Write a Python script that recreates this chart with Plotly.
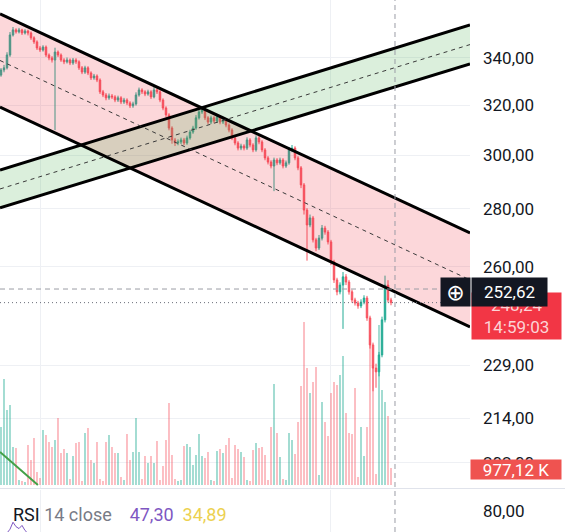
import plotly.graph_objects as go

# ---------------- data ----------------
bar_index = list(range(131))

open_ = [332.6, 334.8, 335.7, 341.3, 350.2, 352.5, 351.6, 352.5, 351.1, 352.0,
         351.1, 348.9, 347.1, 344.4, 343.5, 344.8, 341.3, 340.0, 339.1, 342.6,
         341.3, 339.1, 338.3, 339.1, 337.8, 339.1, 338.3, 335.7, 333.9, 335.7,
         333.5, 331.4, 332.2, 330.5, 325.5, 324.2, 323.0, 323.8, 323.4, 322.1,
         323.0, 321.3, 322.1, 320.9, 319.7, 320.5, 324.2, 326.3, 325.5, 324.6,
         325.5, 323.4, 326.3, 325.5, 322.1, 318.8, 316.0, 310.7, 306.0, 304.8,
         305.2, 306.0, 304.8, 306.8, 309.1, 310.7, 314.8, 317.2, 318.0, 314.8,
         313.1, 314.8, 313.5, 315.2, 313.1, 313.9, 311.9, 309.9, 306.8, 304.8,
         302.8, 303.6, 302.8, 306.0, 304.0, 302.1, 306.8, 305.2, 302.1, 299.0,
         297.4, 295.9, 298.2, 297.1, 298.2, 295.9, 297.1, 302.1, 302.8, 299.0,
         295.2, 288.8, 279.6, 274.3, 276.8, 269.1, 266.3, 269.7, 273.2, 271.8,
         268.4, 261.6, 255.6, 251.7, 253.9, 256.6, 254.9, 251.7, 249.1, 248.1,
         247.2, 248.4, 249.7, 243.4, 235.1, 228.2, 227.1, 232.1, 242.8, 253.9,
         249.1]
high = [335.6, 337.0, 342.5, 351.5, 353.8, 353.2, 353.4, 353.0, 352.8, 352.6,
        351.8, 349.6, 347.8, 345.3, 345.6, 345.5, 342.0, 340.8, 344.5, 343.3,
        342.0, 339.9, 340.2, 339.8, 340.0, 339.9, 339.0, 336.5, 336.6, 336.4,
        334.2, 333.1, 332.9, 331.2, 326.3, 325.0, 324.8, 324.6, 324.1, 323.9,
        323.7, 323.0, 322.8, 321.6, 321.4, 325.3, 327.3, 327.0, 326.2, 326.4,
        326.2, 327.8, 327.0, 326.2, 322.8, 319.5, 316.7, 311.4, 306.8, 306.2,
        306.9, 306.8, 307.7, 310.0, 311.6, 315.9, 318.2, 319.5, 318.7, 315.5,
        315.7, 315.5, 316.1, 315.9, 314.8, 314.6, 312.6, 310.6, 307.5, 305.5,
        304.5, 304.3, 307.0, 306.7, 304.7, 307.8, 307.5, 305.9, 302.8, 299.7,
        298.1, 299.1, 298.9, 299.1, 298.9, 298.0, 303.2, 304.0, 303.5, 299.7,
        295.9, 289.5, 280.3, 278.0, 277.5, 269.8, 270.8, 274.3, 274.0, 272.5,
        269.1, 262.3, 256.3, 254.8, 258.2, 257.5, 255.6, 252.4, 249.8, 248.8,
        249.3, 250.6, 250.4, 244.1, 235.8, 229.5, 233.0, 243.8, 257.0, 255.5,
        249.8]
low = [331.9, 333.8, 335.0, 340.5, 349.5, 350.8, 350.9, 350.2, 350.4, 350.0,
       348.0, 346.2, 343.5, 342.6, 342.8, 340.4, 339.0, 338.0, 309.9, 340.4,
       338.3, 337.3, 337.6, 336.9, 337.0, 337.4, 334.8, 333.0, 333.1, 332.6,
       330.5, 330.6, 329.6, 324.6, 323.3, 322.0, 322.2, 322.5, 321.2, 321.3,
       320.4, 320.5, 320.0, 318.8, 318.9, 319.8, 323.5, 324.6, 323.7, 323.9,
       322.5, 322.8, 324.6, 321.2, 317.9, 315.1, 309.8, 304.5, 303.6, 303.9,
       304.4, 303.9, 304.1, 306.1, 308.4, 310.0, 314.1, 316.4, 313.9, 312.2,
       312.3, 312.6, 312.8, 312.2, 312.3, 311.0, 309.0, 305.9, 303.9, 301.9,
       302.0, 301.9, 302.1, 303.1, 301.2, 301.4, 304.3, 301.2, 298.1, 296.5,
       295.0, 286.5, 296.2, 296.4, 295.0, 295.2, 296.4, 301.2, 298.1, 294.3,
       287.6, 278.0, 262.0, 273.5, 268.2, 265.2, 265.6, 268.9, 270.9, 267.5,
       260.5, 254.6, 250.6, 250.9, 240.0, 253.9, 250.8, 248.2, 247.3, 246.3,
       246.5, 247.7, 242.5, 234.0, 221.5, 222.5, 225.8, 231.4, 242.0, 248.3,
       247.4]
close = [334.8, 335.7, 341.3, 350.2, 352.5, 351.6, 352.5, 351.1, 352.0, 351.1,
         348.9, 347.1, 344.4, 343.5, 344.8, 341.3, 340.0, 339.1, 342.6, 341.3,
         339.1, 338.3, 339.1, 337.8, 339.1, 338.3, 335.7, 333.9, 335.7, 333.5,
         331.4, 332.2, 330.5, 325.5, 324.2, 323.0, 323.8, 323.4, 322.1, 323.0,
         321.3, 322.1, 320.9, 319.7, 320.5, 324.2, 326.3, 325.5, 324.6, 325.5,
         323.4, 326.3, 325.5, 322.1, 318.8, 316.0, 310.7, 306.0, 304.8, 305.2,
         306.0, 304.8, 306.8, 309.1, 310.7, 314.8, 317.2, 318.0, 314.8, 313.1,
         314.8, 313.5, 315.2, 313.1, 313.9, 311.9, 309.9, 306.8, 304.8, 302.8,
         303.6, 302.8, 306.0, 304.0, 302.1, 306.8, 305.2, 302.1, 299.0, 297.4,
         295.9, 298.2, 297.1, 298.2, 295.9, 297.1, 302.1, 302.8, 299.0, 295.2,
         288.8, 279.6, 274.3, 276.8, 269.1, 266.3, 269.7, 273.2, 271.8, 268.4,
         261.6, 255.6, 251.7, 253.9, 256.6, 254.9, 251.7, 249.1, 248.1, 247.2,
         248.4, 249.7, 243.4, 235.1, 228.2, 227.1, 232.1, 242.8, 253.9, 249.1,
         248.24]
volume_m = [3.34, 6.10, 4.31, 4.60, 2.19, 2.13, 0.29, 0.23, 0.17, 2.30,
            1.44, 2.70, 0.75, 0.40, 3.16, 2.88, 2.47, 2.19, 2.59, 3.85,
            1.84, 2.07, 1.84, 0.35, 1.67, 2.42, 2.47, 0.23, 2.99, 3.28,
            1.44, 1.27, 2.47, 0.35, 0.23, 2.47, 2.88, 2.19, 1.84, 1.84,
            0.46, 0.29, 2.93, 1.44, 1.90, 3.85, 1.90, 0.35, 1.67, 1.27,
            1.67, 1.27, 2.53, 0.29, 1.09, 2.59, 4.72, 1.73, 0.35, 0.23,
            0.29, 2.24, 2.36, 2.19, 1.15, 1.73, 2.93, 1.67, 1.55, 1.90,
            0.29, 0.23, 1.96, 2.07, 1.84, 2.30, 2.70, 0.40, 2.30, 2.07,
            1.90, 1.61, 0.29, 0.23, 2.01, 2.42, 2.13, 2.19, 1.73, 0.29,
            3.34, 5.81, 2.99, 1.61, 0.35, 0.29, 2.99, 2.59, 1.78, 3.62,
            5.69, 9.37, 6.73, 5.29, 5.92, 6.79, 0.58, 4.77, 3.62, 2.82,
            5.29, 5.92, 5.75, 6.33, 7.42, 4.14, 2.99, 2.93, 5.58, 0.46,
            3.34, 1.67, 3.34, 8.63, 6.90, 0.63, 9.20, 5.46, 4.77, 3.97,
            0.977]

rsi_index = list(range(13))
rsi_values = [58, 62, 63, 66, 71.5, 68, 66.5, 69, 65, 62, 60, 58, 57]

# drawing tools (channel end values)
channel_x = [-0.333, 156.333]
red_upper = [359.8, 271.5]
red_lower = [319.2, 240.6]
red_mid = [338.9, 255.6]
green_upper = [294.4, 354.7]
green_lower = [280.4, 337.4]
green_mid = [287.3, 345.9]
green_trend_x = [-0.333, 12.3]
green_trend_vol = [1.9, 0.0]

crosshair_price = 252.62
crosshair_bar = 131.33
crosshair_end_bar = 146.33
last_price = 248.24

price_ticks = [340, 320, 300, 280, 260, 229, 214, 202]
price_tick_text = ["340,00", "320,00", "300,00", "280,00", "260,00", "229,00", "214,00", "202,00"]
rsi_ticks = [80]
rsi_tick_text = ["80,00"]
grid_bars = [13.0, 109.67]

UP = "#22ab94"
DOWN = "#f7525f"
UP_VOL = "rgba(34,171,148,0.5)"
DOWN_VOL = "rgba(247,82,95,0.45)"
FONT = "Roboto"

fig = go.Figure()

# channel fills
fig.add_trace(go.Scatter(x=channel_x + channel_x[::-1], y=red_upper + red_lower[::-1],
                         fill="toself", fillcolor="rgba(242,54,69,0.2)", line=dict(width=0),
                         mode="lines", hoverinfo="skip"))
fig.add_trace(go.Scatter(x=channel_x + channel_x[::-1], y=green_upper + green_lower[::-1],
                         fill="toself", fillcolor="rgba(76,175,80,0.2)", line=dict(width=0),
                         mode="lines", hoverinfo="skip"))

# volume
vol_colors = [UP_VOL if c >= o else DOWN_VOL for o, c in zip(open_, close)]
fig.add_trace(go.Bar(x=bar_index, y=volume_m, marker=dict(color=vol_colors, line=dict(width=0)),
                     width=0.55, yaxis="y2", hoverinfo="skip"))
fig.add_trace(go.Scatter(x=green_trend_x, y=green_trend_vol, mode="lines", yaxis="y2",
                         line=dict(color="#43a047", width=2), hoverinfo="skip"))

# candles
fig.add_trace(go.Candlestick(x=bar_index, open=open_, high=high, low=low, close=close,
                             increasing=dict(line=dict(color=UP, width=1), fillcolor=UP),
                             decreasing=dict(line=dict(color=DOWN, width=1), fillcolor=DOWN),
                             whiskerwidth=0, hoverinfo="skip"))

# channel lines
for ys in (red_upper, red_lower, green_upper, green_lower):
    fig.add_trace(go.Scatter(x=channel_x, y=ys, mode="lines",
                             line=dict(color="#000000", width=3), hoverinfo="skip"))
for ys in (red_mid, green_mid):
    fig.add_trace(go.Scatter(x=channel_x, y=ys, mode="lines",
                             line=dict(color="#3a3a3a", width=1, dash="4px,4px"), hoverinfo="skip"))

# crosshair horizontal & last price line
fig.add_trace(go.Scatter(x=[channel_x[0], crosshair_end_bar], y=[crosshair_price] * 2, mode="lines",
                         line=dict(color="#9a9ca5", width=1, dash="5px,4px"), hoverinfo="skip"))
fig.add_trace(go.Scatter(x=channel_x, y=[last_price] * 2, mode="lines",
                         line=dict(color="#6a6d78", width=1, dash="1px,3px"), hoverinfo="skip"))

# RSI
fig.add_trace(go.Scatter(x=rsi_index, y=rsi_values, mode="lines", xaxis="x2", yaxis="y3",
                         line=dict(color="#7e57c2", width=1), hoverinfo="skip"))

H = 532
main_bottom = 1 - 488 / H
rsi_top = 1 - 490 / H

axis_font = dict(family=FONT, size=17, color="#131722")

fig.update_layout(
    width=565, height=532,
    margin=dict(l=0, r=95, t=0, b=0),
    paper_bgcolor="white", plot_bgcolor="white",
    showlegend=False, hovermode=False,
    font=dict(family=FONT, size=17, color="#131722"),
    xaxis=dict(domain=[0, 1], range=[channel_x[0], channel_x[1]], anchor="y",
               tickvals=grid_bars, showticklabels=False, ticks="", showgrid=True,
               gridcolor="#eef0f4", gridwidth=1, zeroline=False, showline=False,
               rangeslider=dict(visible=False)),
    xaxis2=dict(domain=[0, 1], range=[channel_x[0], channel_x[1]], anchor="y3", matches="x",
                tickvals=grid_bars, showticklabels=False, ticks="", showgrid=True,
                gridcolor="#eef0f4", zeroline=False, showline=False),
    yaxis=dict(type="log", domain=[main_bottom, 1], range=[2.29137, 2.56384], side="right",
               tickvals=price_ticks, ticktext=price_tick_text, ticks="", ticklabelstandoff=12,
               showgrid=True, gridcolor="#eef0f4", zeroline=False, showline=False,
               tickfont=axis_font, anchor="x"),
    yaxis2=dict(overlaying="y", range=[-0.1725, 27.8875], visible=False, anchor="x"),
    yaxis3=dict(domain=[0, rsi_top], range=[63.8, 96.9], side="right", anchor="x2",
                tickvals=rsi_ticks, ticktext=rsi_tick_text, ticks="", ticklabelstandoff=12,
                showgrid=False, zeroline=False, showline=False, tickfont=axis_font),
)

shapes = [
    dict(type="line", xref="x", yref="paper", x0=crosshair_bar, x1=crosshair_bar, y0=0, y1=1,
         line=dict(color="#9a9ca5", width=1, dash="5px,4px")),
    dict(type="line", xref="paper", yref="paper", x0=0, x1=565 / 470, y0=1 - 488.5 / H, y1=1 - 488.5 / H,
         line=dict(color="#e0e3eb", width=1)),
]
fig.update_layout(shapes=shapes)

PW = 470.0
ann = []
# red last-price box
ann.append(dict(xref="paper", yref="paper", x=471 / PW, y=1 - 292 / H, xanchor="left", yanchor="top",
                text="248,24<br>14:59:03", showarrow=False, bgcolor="#f23645", width=87, height=44,
                borderpad=1, align="center", valign="middle",
                font=dict(family=FONT, size=17, color="#fcd3d6")))
# black crosshair label: icon and value
ann.append(dict(xref="paper", yref="paper", x=440 / PW, y=1 - 277 / H, xanchor="left", yanchor="top",
                text="⊕", showarrow=False, bgcolor="#131722", width=27, height=26, borderpad=1,
                font=dict(family="DejaVu Sans", size=22, color="#ffffff")))
ann.append(dict(xref="paper", yref="paper", x=471 / PW, y=1 - 277 / H, xanchor="left", yanchor="top",
                text="252,62", showarrow=False, bgcolor="#131722", width=73, height=26, borderpad=1,
                font=dict(family=FONT, size=17, color="#ffffff")))
# volume label
ann.append(dict(xref="paper", yref="paper", x=470 / PW, y=1 - 459 / H, xanchor="left", yanchor="top",
                text="977,12 K", showarrow=False, bgcolor="#ef5350", width=88, height=17, borderpad=1,
                font=dict(family=FONT, size=17, color="#ffffff")))
# RSI legend
rsi_text = ("<span style='color:#131722'>RSI</span> <span style='color:#787b86'>14 close</span>"
            "&nbsp;&nbsp;&nbsp;&nbsp;<span style='color:#7e57c2'>47,30</span>&nbsp;&nbsp;"
            "<span style='color:#ecd150'>34,89</span>")
ann.append(dict(xref="paper", yref="paper", x=11 / PW, y=1 - 514 / H, xanchor="left", yanchor="middle",
                text=rsi_text, showarrow=False, font=dict(family=FONT, size=18)))
fig.update_layout(annotations=ann)

fig.write_html("out.html")
